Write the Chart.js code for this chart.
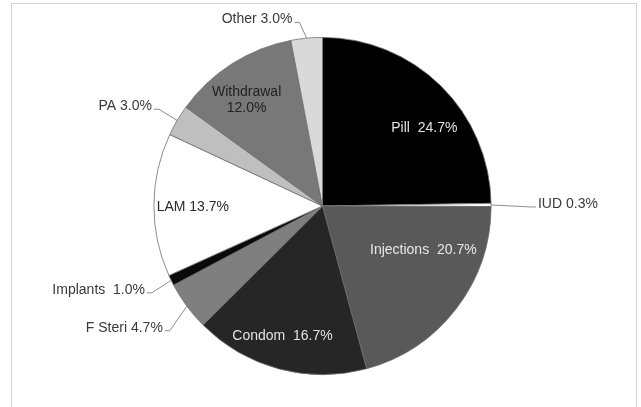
<!DOCTYPE html>
<html lang="en">
<head>
    <meta charset="UTF-8">
    <title>Contraceptive Method Mix</title>
    <script src="https://cdn.jsdelivr.net/npm/chart.js"></script>
    <style>
        body { margin: 0; background: #fff; }
        #wrap { position: relative; width: 641px; height: 407px; overflow: hidden; }
        #frame { position: absolute; left: 11px; top: 3px; width: 624px; height: 420px;
                 border: 1px solid #d4d4d4; border-bottom: none; }
        #chart { position: absolute; left: 0; top: 0; }
    </style>
</head>
<body>
<div id="wrap">
    <div id="frame"></div>
    <canvas id="chart" width="641" height="407"></canvas>
</div>
<script>
    // data, clockwise from 12 o'clock
    const methods = ['Pill', 'IUD', 'Injections', 'Condom', 'F Steri', 'Implants', 'LAM', 'PA', 'Withdrawal', 'Other'];
    const shares = [24.7, 0.3, 20.7, 16.7, 4.7, 1.0, 13.7, 3.0, 12.0, 3.0];
    const sliceColors = ['#000000', '#ffffff', '#595959', '#262626', '#7f7f7f', '#0a0a0a', '#ffffff', '#bfbfbf', '#787878', '#d9d9d9'];

    // label text: separator between name and value
    const labelSep = ['  ', ' ', '  ', '  ', ' ', '  ', ' ', ' ', '\n', ' '];
    // label placement, as fractions of the pie radius from its centre
    // inside: text centre; outside: text end next to leader line
    const labelPos = [[0.604, -0.462], [1.278, -0.012], [0.598, 0.260], [-0.237, 0.769], [-0.947, 0.722],
                      [-1.053, 0.497], [-0.769, 0.006], [-1.012, -0.592], [-0.450, -0.627], [-0.178, -1.107]];
    const labelMode = ['in', 'right', 'in', 'in', 'left', 'left', 'in', 'left', 'in', 'left'];
    const labelColor = ['#e2e2e2', '#3a3a3a', '#e8e8e8', '#e2e2e2', '#3a3a3a', '#3a3a3a', '#2a2a2a', '#3a3a3a', '#222', '#3a3a3a'];

    const pieLabels = {
        id: 'pieLabels',
        afterDatasetsDraw(chart) {
            const ctx = chart.ctx;
            const arcs = chart.getDatasetMeta(0).data;
            ctx.save();
            ctx.font = '14px "Liberation Sans", Arial, sans-serif';
            ctx.textBaseline = 'middle';
            arcs.forEach((arc, i) => {
                const p = arc.getProps(['x', 'y', 'startAngle', 'endAngle', 'outerRadius'], true);
                const R = p.outerRadius;
                const tx = p.x + labelPos[i][0] * R;
                const ty = p.y + labelPos[i][1] * R;
                const text = methods[i] + labelSep[i] + shares[i].toFixed(1) + '%';
                ctx.fillStyle = labelColor[i];
                if (labelMode[i] === 'in') {
                    ctx.textAlign = 'center';
                    const lines = text.split('\n');
                    lines.forEach((ln, k) => ctx.fillText(ln, tx, ty + (k - (lines.length - 1) / 2) * 16));
                    return;
                }
                const mid = (p.startAngle + p.endAngle) / 2;
                const ex = p.x + Math.cos(mid) * R;
                const ey = p.y + Math.sin(mid) * R;
                const dir = labelMode[i] === 'left' ? 1 : -1;
                const ax = tx + dir * 2;
                const ay = ty + 3;
                ctx.strokeStyle = '#8c8c8c';
                ctx.lineWidth = 1;
                ctx.beginPath();
                ctx.moveTo(ax, ay);
                ctx.lineTo(ax + dir * 5, ay);
                ctx.lineTo(ex, ey);
                ctx.stroke();
                ctx.textAlign = labelMode[i] === 'left' ? 'right' : 'left';
                ctx.fillText(text, tx, ty);
            });
            ctx.restore();
        }
    };

    new Chart(document.getElementById('chart'), {
        type: 'pie',
        data: {
            labels: methods,
            datasets: [{
                data: shares,
                backgroundColor: sliceColors,
                borderColor: '#6e6e6e',
                borderWidth: 0.8
            }]
        },
        options: {
            responsive: false,
            animation: false,
            events: [],
            layout: { padding: { top: 37, bottom: 32, left: 150, right: 146 } },
            plugins: { legend: { display: false }, tooltip: { enabled: false } }
        },
        plugins: [pieLabels]
    });
</script>
</body>
</html>
